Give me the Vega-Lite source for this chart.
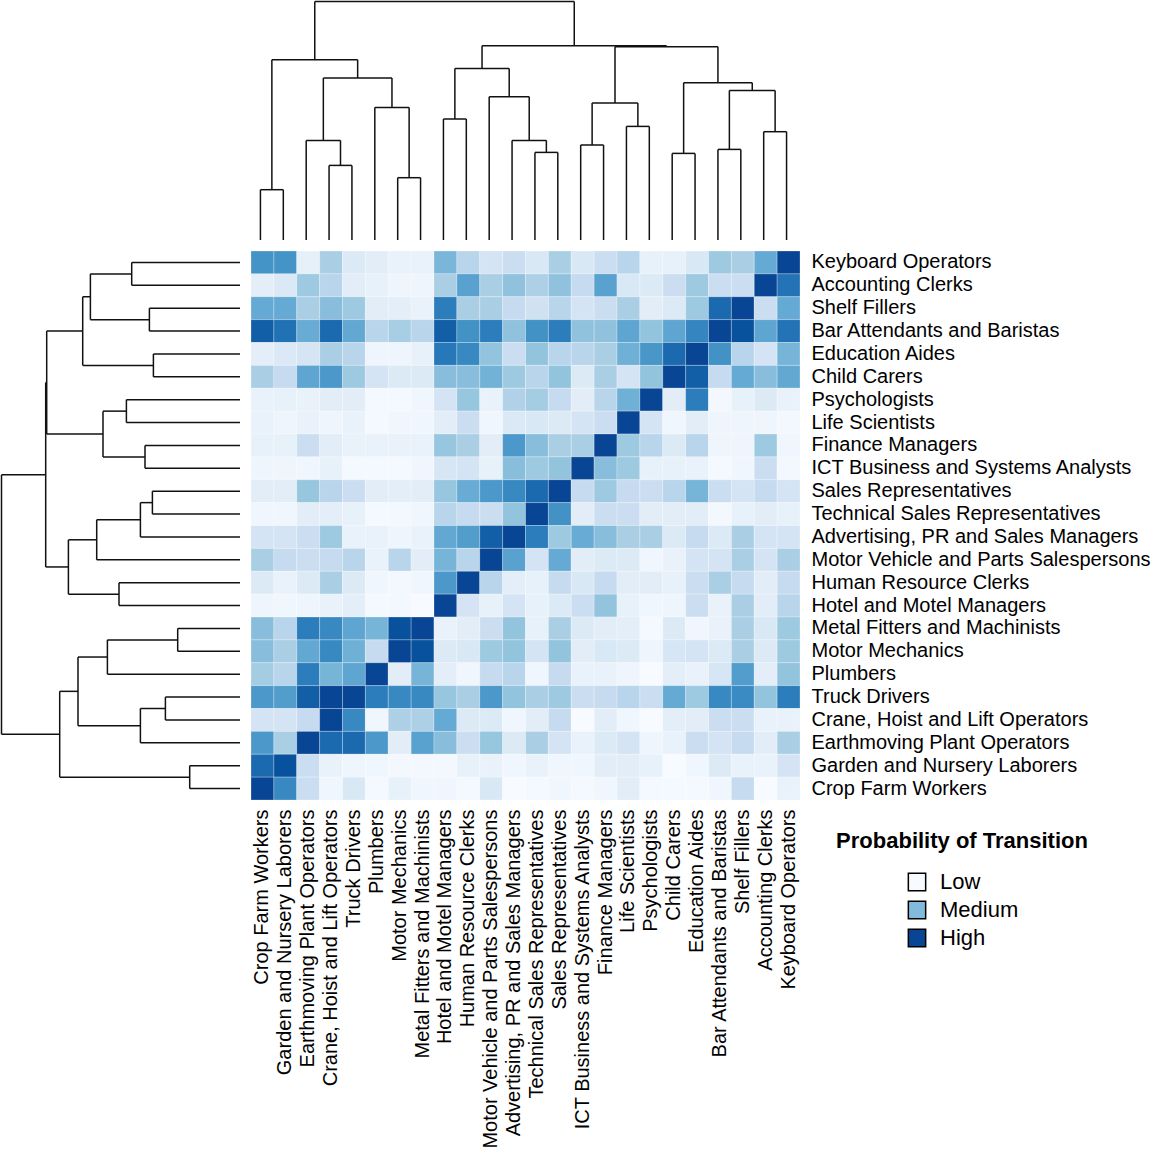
{
"$schema": "https://vega.github.io/schema/vega-lite/v6.json",
"padding": 0,
"background": "white",
"config": {"view": {"stroke": null}, "font": "Liberation Sans"},
"datasets": {
"tree": [
{"p":0.5,"p2":0.5,"h":0,"h2":50.3},{"p":1.5,"p2":1.5,"h":0,"h2":50.3},{"p":0.5,"p2":1.5,"h":50.3,"h2":50.3},
{"p":3.5,"p2":3.5,"h":0,"h2":74.6},{"p":4.5,"p2":4.5,"h":0,"h2":74.6},{"p":3.5,"p2":4.5,"h":74.6,"h2":74.6},
{"p":2.5,"p2":2.5,"h":0,"h2":99.6},{"p":4.0,"p2":4.0,"h":74.6,"h2":99.6},{"p":2.5,"p2":4.0,"h":99.6,"h2":99.6},
{"p":6.5,"p2":6.5,"h":0,"h2":62.3},{"p":7.5,"p2":7.5,"h":0,"h2":62.3},{"p":6.5,"p2":7.5,"h":62.3,"h2":62.3},
{"p":5.5,"p2":5.5,"h":0,"h2":132.6},{"p":7.0,"p2":7.0,"h":62.3,"h2":132.6},{"p":5.5,"p2":7.0,"h":132.6,"h2":132.6},
{"p":3.25,"p2":3.25,"h":99.6,"h2":162},{"p":6.25,"p2":6.25,"h":132.6,"h2":162},{"p":3.25,"p2":6.25,"h":162,"h2":162},
{"p":1.0,"p2":1.0,"h":50.3,"h2":180.3},{"p":4.75,"p2":4.75,"h":162,"h2":180.3},{"p":1.0,"p2":4.75,"h":180.3,"h2":180.3},
{"p":8.5,"p2":8.5,"h":0,"h2":121},{"p":9.5,"p2":9.5,"h":0,"h2":121},{"p":8.5,"p2":9.5,"h":121,"h2":121},
{"p":12.5,"p2":12.5,"h":0,"h2":87.6},{"p":13.5,"p2":13.5,"h":0,"h2":87.6},{"p":12.5,"p2":13.5,"h":87.6,"h2":87.6},
{"p":11.5,"p2":11.5,"h":0,"h2":99.6},{"p":13.0,"p2":13.0,"h":87.6,"h2":99.6},{"p":11.5,"p2":13.0,"h":99.6,"h2":99.6},
{"p":10.5,"p2":10.5,"h":0,"h2":143.3},{"p":12.25,"p2":12.25,"h":99.6,"h2":143.3},{"p":10.5,"p2":12.25,"h":143.3,"h2":143.3},
{"p":9.0,"p2":9.0,"h":121,"h2":171.6},{"p":11.375,"p2":11.375,"h":143.3,"h2":171.6},{"p":9.0,"p2":11.375,"h":171.6,"h2":171.6},
{"p":14.5,"p2":14.5,"h":0,"h2":95},{"p":15.5,"p2":15.5,"h":0,"h2":95},{"p":14.5,"p2":15.5,"h":95,"h2":95},
{"p":16.5,"p2":16.5,"h":0,"h2":113.6},{"p":17.5,"p2":17.5,"h":0,"h2":113.6},{"p":16.5,"p2":17.5,"h":113.6,"h2":113.6},
{"p":15,"p2":15,"h":95,"h2":137},{"p":17,"p2":17,"h":113.6,"h2":137},{"p":15,"p2":17,"h":137,"h2":137},
{"p":18.5,"p2":18.5,"h":0,"h2":86.6},{"p":19.5,"p2":19.5,"h":0,"h2":86.6},{"p":18.5,"p2":19.5,"h":86.6,"h2":86.6},
{"p":20.5,"p2":20.5,"h":0,"h2":90.6},{"p":21.5,"p2":21.5,"h":0,"h2":90.6},{"p":20.5,"p2":21.5,"h":90.6,"h2":90.6},
{"p":22.5,"p2":22.5,"h":0,"h2":108.3},{"p":23.5,"p2":23.5,"h":0,"h2":108.3},{"p":22.5,"p2":23.5,"h":108.3,"h2":108.3},
{"p":21,"p2":21,"h":90.6,"h2":149.6},{"p":23,"p2":23,"h":108.3,"h2":149.6},{"p":21,"p2":23,"h":149.6,"h2":149.6},
{"p":19,"p2":19,"h":86.6,"h2":157.3},{"p":22,"p2":22,"h":149.6,"h2":157.3},{"p":19,"p2":22,"h":157.3,"h2":157.3},
{"p":16,"p2":16,"h":137,"h2":193.3},{"p":20.5,"p2":20.5,"h":157.3,"h2":193.3},{"p":16,"p2":20.5,"h":193.3,"h2":193.3},
{"p":10.1875,"p2":10.1875,"h":171.6,"h2":194.3},{"p":18.25,"p2":18.25,"h":193.3,"h2":194.3},{"p":10.1875,"p2":18.25,"h":194.3,"h2":194.3},
{"p":2.875,"p2":2.875,"h":180.3,"h2":238.5},{"p":14.21875,"p2":14.21875,"h":194.3,"h2":238.5},{"p":2.875,"p2":14.21875,"h":238.5,"h2":238.5}
],
"cells": [
{"r":"Keyboard Operators","c":"Crop Farm Workers","p":0.68},{"r":"Keyboard Operators","c":"Garden and Nursery Laborers","p":0.68},{"r":"Keyboard Operators","c":"Earthmoving Plant Operators","p":0.1},{"r":"Keyboard Operators","c":"Crane, Hoist and Lift Operators","p":0.38},{"r":"Keyboard Operators","c":"Truck Drivers","p":0.15},{"r":"Keyboard Operators","c":"Plumbers","p":0.12},{"r":"Keyboard Operators","c":"Motor Mechanics","p":0.08},{"r":"Keyboard Operators","c":"Metal Fitters and Machinists","p":0.08},{"r":"Keyboard Operators","c":"Hotel and Motel Managers","p":0.52},{"r":"Keyboard Operators","c":"Human Resource Clerks","p":0.33},{"r":"Keyboard Operators","c":"Motor Vehicle and Parts Salespersons","p":0.2},{"r":"Keyboard Operators","c":"Advertising, PR and Sales Managers","p":0.25},{"r":"Keyboard Operators","c":"Technical Sales Representatives","p":0.17},{"r":"Keyboard Operators","c":"Sales Representatives","p":0.38},{"r":"Keyboard Operators","c":"ICT Business and Systems Analysts","p":0.17},{"r":"Keyboard Operators","c":"Finance Managers","p":0.25},{"r":"Keyboard Operators","c":"Life Scientists","p":0.33},{"r":"Keyboard Operators","c":"Psychologists","p":0.09},{"r":"Keyboard Operators","c":"Child Carers","p":0.09},{"r":"Keyboard Operators","c":"Education Aides","p":0.17},{"r":"Keyboard Operators","c":"Bar Attendants and Baristas","p":0.42},{"r":"Keyboard Operators","c":"Shelf Fillers","p":0.38},{"r":"Keyboard Operators","c":"Accounting Clerks","p":0.58},{"r":"Keyboard Operators","c":"Keyboard Operators","p":1.0},
{"r":"Accounting Clerks","c":"Crop Farm Workers","p":0.11},{"r":"Accounting Clerks","c":"Garden and Nursery Laborers","p":0.16},{"r":"Accounting Clerks","c":"Earthmoving Plant Operators","p":0.42},{"r":"Accounting Clerks","c":"Crane, Hoist and Lift Operators","p":0.33},{"r":"Accounting Clerks","c":"Truck Drivers","p":0.12},{"r":"Accounting Clerks","c":"Plumbers","p":0.09},{"r":"Accounting Clerks","c":"Motor Mechanics","p":0.05},{"r":"Accounting Clerks","c":"Metal Fitters and Machinists","p":0.05},{"r":"Accounting Clerks","c":"Hotel and Motel Managers","p":0.38},{"r":"Accounting Clerks","c":"Human Resource Clerks","p":0.62},{"r":"Accounting Clerks","c":"Motor Vehicle and Parts Salespersons","p":0.38},{"r":"Accounting Clerks","c":"Advertising, PR and Sales Managers","p":0.46},{"r":"Accounting Clerks","c":"Technical Sales Representatives","p":0.37},{"r":"Accounting Clerks","c":"Sales Representatives","p":0.46},{"r":"Accounting Clerks","c":"ICT Business and Systems Analysts","p":0.28},{"r":"Accounting Clerks","c":"Finance Managers","p":0.62},{"r":"Accounting Clerks","c":"Life Scientists","p":0.17},{"r":"Accounting Clerks","c":"Psychologists","p":0.15},{"r":"Accounting Clerks","c":"Child Carers","p":0.25},{"r":"Accounting Clerks","c":"Education Aides","p":0.42},{"r":"Accounting Clerks","c":"Bar Attendants and Baristas","p":0.25},{"r":"Accounting Clerks","c":"Shelf Fillers","p":0.25},{"r":"Accounting Clerks","c":"Accounting Clerks","p":1.0},{"r":"Accounting Clerks","c":"Keyboard Operators","p":0.82},
{"r":"Shelf Fillers","c":"Crop Farm Workers","p":0.58},{"r":"Shelf Fillers","c":"Garden and Nursery Laborers","p":0.58},{"r":"Shelf Fillers","c":"Earthmoving Plant Operators","p":0.38},{"r":"Shelf Fillers","c":"Crane, Hoist and Lift Operators","p":0.48},{"r":"Shelf Fillers","c":"Truck Drivers","p":0.42},{"r":"Shelf Fillers","c":"Plumbers","p":0.12},{"r":"Shelf Fillers","c":"Motor Mechanics","p":0.11},{"r":"Shelf Fillers","c":"Metal Fitters and Machinists","p":0.08},{"r":"Shelf Fillers","c":"Hotel and Motel Managers","p":0.78},{"r":"Shelf Fillers","c":"Human Resource Clerks","p":0.38},{"r":"Shelf Fillers","c":"Motor Vehicle and Parts Salespersons","p":0.38},{"r":"Shelf Fillers","c":"Advertising, PR and Sales Managers","p":0.28},{"r":"Shelf Fillers","c":"Technical Sales Representatives","p":0.22},{"r":"Shelf Fillers","c":"Sales Representatives","p":0.33},{"r":"Shelf Fillers","c":"ICT Business and Systems Analysts","p":0.2},{"r":"Shelf Fillers","c":"Finance Managers","p":0.25},{"r":"Shelf Fillers","c":"Life Scientists","p":0.38},{"r":"Shelf Fillers","c":"Psychologists","p":0.12},{"r":"Shelf Fillers","c":"Child Carers","p":0.15},{"r":"Shelf Fillers","c":"Education Aides","p":0.42},{"r":"Shelf Fillers","c":"Bar Attendants and Baristas","p":0.86},{"r":"Shelf Fillers","c":"Shelf Fillers","p":1.0},{"r":"Shelf Fillers","c":"Accounting Clerks","p":0.25},{"r":"Shelf Fillers","c":"Keyboard Operators","p":0.58},
{"r":"Bar Attendants and Baristas","c":"Crop Farm Workers","p":0.9},{"r":"Bar Attendants and Baristas","c":"Garden and Nursery Laborers","p":0.83},{"r":"Bar Attendants and Baristas","c":"Earthmoving Plant Operators","p":0.57},{"r":"Bar Attendants and Baristas","c":"Crane, Hoist and Lift Operators","p":0.86},{"r":"Bar Attendants and Baristas","c":"Truck Drivers","p":0.59},{"r":"Bar Attendants and Baristas","c":"Plumbers","p":0.33},{"r":"Bar Attendants and Baristas","c":"Motor Mechanics","p":0.39},{"r":"Bar Attendants and Baristas","c":"Metal Fitters and Machinists","p":0.33},{"r":"Bar Attendants and Baristas","c":"Hotel and Motel Managers","p":0.9},{"r":"Bar Attendants and Baristas","c":"Human Resource Clerks","p":0.69},{"r":"Bar Attendants and Baristas","c":"Motor Vehicle and Parts Salespersons","p":0.78},{"r":"Bar Attendants and Baristas","c":"Advertising, PR and Sales Managers","p":0.46},{"r":"Bar Attendants and Baristas","c":"Technical Sales Representatives","p":0.69},{"r":"Bar Attendants and Baristas","c":"Sales Representatives","p":0.78},{"r":"Bar Attendants and Baristas","c":"ICT Business and Systems Analysts","p":0.46},{"r":"Bar Attendants and Baristas","c":"Finance Managers","p":0.46},{"r":"Bar Attendants and Baristas","c":"Life Scientists","p":0.6},{"r":"Bar Attendants and Baristas","c":"Psychologists","p":0.45},{"r":"Bar Attendants and Baristas","c":"Child Carers","p":0.6},{"r":"Bar Attendants and Baristas","c":"Education Aides","p":0.74},{"r":"Bar Attendants and Baristas","c":"Bar Attendants and Baristas","p":1.0},{"r":"Bar Attendants and Baristas","c":"Shelf Fillers","p":0.95},{"r":"Bar Attendants and Baristas","c":"Accounting Clerks","p":0.6},{"r":"Bar Attendants and Baristas","c":"Keyboard Operators","p":0.82},
{"r":"Education Aides","c":"Crop Farm Workers","p":0.11},{"r":"Education Aides","c":"Garden and Nursery Laborers","p":0.16},{"r":"Education Aides","c":"Earthmoving Plant Operators","p":0.19},{"r":"Education Aides","c":"Crane, Hoist and Lift Operators","p":0.38},{"r":"Education Aides","c":"Truck Drivers","p":0.33},{"r":"Education Aides","c":"Plumbers","p":0.05},{"r":"Education Aides","c":"Motor Mechanics","p":0.05},{"r":"Education Aides","c":"Metal Fitters and Machinists","p":0.09},{"r":"Education Aides","c":"Hotel and Motel Managers","p":0.8},{"r":"Education Aides","c":"Human Resource Clerks","p":0.73},{"r":"Education Aides","c":"Motor Vehicle and Parts Salespersons","p":0.45},{"r":"Education Aides","c":"Advertising, PR and Sales Managers","p":0.25},{"r":"Education Aides","c":"Technical Sales Representatives","p":0.45},{"r":"Education Aides","c":"Sales Representatives","p":0.33},{"r":"Education Aides","c":"ICT Business and Systems Analysts","p":0.33},{"r":"Education Aides","c":"Finance Managers","p":0.38},{"r":"Education Aides","c":"Life Scientists","p":0.55},{"r":"Education Aides","c":"Psychologists","p":0.67},{"r":"Education Aides","c":"Child Carers","p":0.86},{"r":"Education Aides","c":"Education Aides","p":1.0},{"r":"Education Aides","c":"Bar Attendants and Baristas","p":0.69},{"r":"Education Aides","c":"Shelf Fillers","p":0.33},{"r":"Education Aides","c":"Accounting Clerks","p":0.2},{"r":"Education Aides","c":"Keyboard Operators","p":0.53},
{"r":"Child Carers","c":"Crop Farm Workers","p":0.38},{"r":"Child Carers","c":"Garden and Nursery Laborers","p":0.28},{"r":"Child Carers","c":"Earthmoving Plant Operators","p":0.6},{"r":"Child Carers","c":"Crane, Hoist and Lift Operators","p":0.66},{"r":"Child Carers","c":"Truck Drivers","p":0.42},{"r":"Child Carers","c":"Plumbers","p":0.2},{"r":"Child Carers","c":"Motor Mechanics","p":0.15},{"r":"Child Carers","c":"Metal Fitters and Machinists","p":0.15},{"r":"Child Carers","c":"Hotel and Motel Managers","p":0.48},{"r":"Child Carers","c":"Human Resource Clerks","p":0.48},{"r":"Child Carers","c":"Motor Vehicle and Parts Salespersons","p":0.54},{"r":"Child Carers","c":"Advertising, PR and Sales Managers","p":0.42},{"r":"Child Carers","c":"Technical Sales Representatives","p":0.33},{"r":"Child Carers","c":"Sales Representatives","p":0.45},{"r":"Child Carers","c":"ICT Business and Systems Analysts","p":0.15},{"r":"Child Carers","c":"Finance Managers","p":0.38},{"r":"Child Carers","c":"Life Scientists","p":0.2},{"r":"Child Carers","c":"Psychologists","p":0.45},{"r":"Child Carers","c":"Child Carers","p":1.0},{"r":"Child Carers","c":"Education Aides","p":0.9},{"r":"Child Carers","c":"Bar Attendants and Baristas","p":0.28},{"r":"Child Carers","c":"Shelf Fillers","p":0.58},{"r":"Child Carers","c":"Accounting Clerks","p":0.48},{"r":"Child Carers","c":"Keyboard Operators","p":0.59},
{"r":"Psychologists","c":"Crop Farm Workers","p":0.08},{"r":"Psychologists","c":"Garden and Nursery Laborers","p":0.09},{"r":"Psychologists","c":"Earthmoving Plant Operators","p":0.08},{"r":"Psychologists","c":"Crane, Hoist and Lift Operators","p":0.12},{"r":"Psychologists","c":"Truck Drivers","p":0.12},{"r":"Psychologists","c":"Plumbers","p":0.02},{"r":"Psychologists","c":"Motor Mechanics","p":0.02},{"r":"Psychologists","c":"Metal Fitters and Machinists","p":0.04},{"r":"Psychologists","c":"Hotel and Motel Managers","p":0.2},{"r":"Psychologists","c":"Human Resource Clerks","p":0.44},{"r":"Psychologists","c":"Motor Vehicle and Parts Salespersons","p":0.08},{"r":"Psychologists","c":"Advertising, PR and Sales Managers","p":0.36},{"r":"Psychologists","c":"Technical Sales Representatives","p":0.4},{"r":"Psychologists","c":"Sales Representatives","p":0.28},{"r":"Psychologists","c":"ICT Business and Systems Analysts","p":0.12},{"r":"Psychologists","c":"Finance Managers","p":0.33},{"r":"Psychologists","c":"Life Scientists","p":0.55},{"r":"Psychologists","c":"Psychologists","p":1.0},{"r":"Psychologists","c":"Child Carers","p":0.12},{"r":"Psychologists","c":"Education Aides","p":0.78},{"r":"Psychologists","c":"Bar Attendants and Baristas","p":0.03},{"r":"Psychologists","c":"Shelf Fillers","p":0.09},{"r":"Psychologists","c":"Accounting Clerks","p":0.15},{"r":"Psychologists","c":"Keyboard Operators","p":0.08},
{"r":"Life Scientists","c":"Crop Farm Workers","p":0.08},{"r":"Life Scientists","c":"Garden and Nursery Laborers","p":0.05},{"r":"Life Scientists","c":"Earthmoving Plant Operators","p":0.08},{"r":"Life Scientists","c":"Crane, Hoist and Lift Operators","p":0.05},{"r":"Life Scientists","c":"Truck Drivers","p":0.08},{"r":"Life Scientists","c":"Plumbers","p":0.02},{"r":"Life Scientists","c":"Motor Mechanics","p":0.04},{"r":"Life Scientists","c":"Metal Fitters and Machinists","p":0.04},{"r":"Life Scientists","c":"Hotel and Motel Managers","p":0.12},{"r":"Life Scientists","c":"Human Resource Clerks","p":0.25},{"r":"Life Scientists","c":"Motor Vehicle and Parts Salespersons","p":0.04},{"r":"Life Scientists","c":"Advertising, PR and Sales Managers","p":0.16},{"r":"Life Scientists","c":"Technical Sales Representatives","p":0.17},{"r":"Life Scientists","c":"Sales Representatives","p":0.15},{"r":"Life Scientists","c":"ICT Business and Systems Analysts","p":0.2},{"r":"Life Scientists","c":"Finance Managers","p":0.25},{"r":"Life Scientists","c":"Life Scientists","p":1.0},{"r":"Life Scientists","c":"Psychologists","p":0.2},{"r":"Life Scientists","c":"Child Carers","p":0.04},{"r":"Life Scientists","c":"Education Aides","p":0.12},{"r":"Life Scientists","c":"Bar Attendants and Baristas","p":0.05},{"r":"Life Scientists","c":"Shelf Fillers","p":0.05},{"r":"Life Scientists","c":"Accounting Clerks","p":0.05},{"r":"Life Scientists","c":"Keyboard Operators","p":0.03},
{"r":"Finance Managers","c":"Crop Farm Workers","p":0.09},{"r":"Finance Managers","c":"Garden and Nursery Laborers","p":0.09},{"r":"Finance Managers","c":"Earthmoving Plant Operators","p":0.25},{"r":"Finance Managers","c":"Crane, Hoist and Lift Operators","p":0.12},{"r":"Finance Managers","c":"Truck Drivers","p":0.08},{"r":"Finance Managers","c":"Plumbers","p":0.08},{"r":"Finance Managers","c":"Motor Mechanics","p":0.08},{"r":"Finance Managers","c":"Metal Fitters and Machinists","p":0.08},{"r":"Finance Managers","c":"Hotel and Motel Managers","p":0.44},{"r":"Finance Managers","c":"Human Resource Clerks","p":0.38},{"r":"Finance Managers","c":"Motor Vehicle and Parts Salespersons","p":0.12},{"r":"Finance Managers","c":"Advertising, PR and Sales Managers","p":0.66},{"r":"Finance Managers","c":"Technical Sales Representatives","p":0.48},{"r":"Finance Managers","c":"Sales Representatives","p":0.38},{"r":"Finance Managers","c":"ICT Business and Systems Analysts","p":0.38},{"r":"Finance Managers","c":"Finance Managers","p":1.0},{"r":"Finance Managers","c":"Life Scientists","p":0.42},{"r":"Finance Managers","c":"Psychologists","p":0.33},{"r":"Finance Managers","c":"Child Carers","p":0.15},{"r":"Finance Managers","c":"Education Aides","p":0.33},{"r":"Finance Managers","c":"Bar Attendants and Baristas","p":0.05},{"r":"Finance Managers","c":"Shelf Fillers","p":0.05},{"r":"Finance Managers","c":"Accounting Clerks","p":0.42},{"r":"Finance Managers","c":"Keyboard Operators","p":0.04},
{"r":"ICT Business and Systems Analysts","c":"Crop Farm Workers","p":0.05},{"r":"ICT Business and Systems Analysts","c":"Garden and Nursery Laborers","p":0.05},{"r":"ICT Business and Systems Analysts","c":"Earthmoving Plant Operators","p":0.04},{"r":"ICT Business and Systems Analysts","c":"Crane, Hoist and Lift Operators","p":0.09},{"r":"ICT Business and Systems Analysts","c":"Truck Drivers","p":0.02},{"r":"ICT Business and Systems Analysts","c":"Plumbers","p":0.02},{"r":"ICT Business and Systems Analysts","c":"Motor Mechanics","p":0.02},{"r":"ICT Business and Systems Analysts","c":"Metal Fitters and Machinists","p":0.04},{"r":"ICT Business and Systems Analysts","c":"Hotel and Motel Managers","p":0.18},{"r":"ICT Business and Systems Analysts","c":"Human Resource Clerks","p":0.2},{"r":"ICT Business and Systems Analysts","c":"Motor Vehicle and Parts Salespersons","p":0.09},{"r":"ICT Business and Systems Analysts","c":"Advertising, PR and Sales Managers","p":0.48},{"r":"ICT Business and Systems Analysts","c":"Technical Sales Representatives","p":0.42},{"r":"ICT Business and Systems Analysts","c":"Sales Representatives","p":0.45},{"r":"ICT Business and Systems Analysts","c":"ICT Business and Systems Analysts","p":1.0},{"r":"ICT Business and Systems Analysts","c":"Finance Managers","p":0.48},{"r":"ICT Business and Systems Analysts","c":"Life Scientists","p":0.42},{"r":"ICT Business and Systems Analysts","c":"Psychologists","p":0.09},{"r":"ICT Business and Systems Analysts","c":"Child Carers","p":0.09},{"r":"ICT Business and Systems Analysts","c":"Education Aides","p":0.08},{"r":"ICT Business and Systems Analysts","c":"Bar Attendants and Baristas","p":0.02},{"r":"ICT Business and Systems Analysts","c":"Shelf Fillers","p":0.04},{"r":"ICT Business and Systems Analysts","c":"Accounting Clerks","p":0.25},{"r":"ICT Business and Systems Analysts","c":"Keyboard Operators","p":0.03},
{"r":"Sales Representatives","c":"Crop Farm Workers","p":0.12},{"r":"Sales Representatives","c":"Garden and Nursery Laborers","p":0.12},{"r":"Sales Representatives","c":"Earthmoving Plant Operators","p":0.44},{"r":"Sales Representatives","c":"Crane, Hoist and Lift Operators","p":0.33},{"r":"Sales Representatives","c":"Truck Drivers","p":0.25},{"r":"Sales Representatives","c":"Plumbers","p":0.12},{"r":"Sales Representatives","c":"Motor Mechanics","p":0.11},{"r":"Sales Representatives","c":"Metal Fitters and Machinists","p":0.12},{"r":"Sales Representatives","c":"Hotel and Motel Managers","p":0.44},{"r":"Sales Representatives","c":"Human Resource Clerks","p":0.57},{"r":"Sales Representatives","c":"Motor Vehicle and Parts Salespersons","p":0.66},{"r":"Sales Representatives","c":"Advertising, PR and Sales Managers","p":0.73},{"r":"Sales Representatives","c":"Technical Sales Representatives","p":0.86},{"r":"Sales Representatives","c":"Sales Representatives","p":1.0},{"r":"Sales Representatives","c":"ICT Business and Systems Analysts","p":0.28},{"r":"Sales Representatives","c":"Finance Managers","p":0.42},{"r":"Sales Representatives","c":"Life Scientists","p":0.28},{"r":"Sales Representatives","c":"Psychologists","p":0.25},{"r":"Sales Representatives","c":"Child Carers","p":0.33},{"r":"Sales Representatives","c":"Education Aides","p":0.53},{"r":"Sales Representatives","c":"Bar Attendants and Baristas","p":0.25},{"r":"Sales Representatives","c":"Shelf Fillers","p":0.2},{"r":"Sales Representatives","c":"Accounting Clerks","p":0.28},{"r":"Sales Representatives","c":"Keyboard Operators","p":0.2},
{"r":"Technical Sales Representatives","c":"Crop Farm Workers","p":0.04},{"r":"Technical Sales Representatives","c":"Garden and Nursery Laborers","p":0.04},{"r":"Technical Sales Representatives","c":"Earthmoving Plant Operators","p":0.12},{"r":"Technical Sales Representatives","c":"Crane, Hoist and Lift Operators","p":0.11},{"r":"Technical Sales Representatives","c":"Truck Drivers","p":0.09},{"r":"Technical Sales Representatives","c":"Plumbers","p":0.02},{"r":"Technical Sales Representatives","c":"Motor Mechanics","p":0.03},{"r":"Technical Sales Representatives","c":"Metal Fitters and Machinists","p":0.04},{"r":"Technical Sales Representatives","c":"Hotel and Motel Managers","p":0.33},{"r":"Technical Sales Representatives","c":"Human Resource Clerks","p":0.28},{"r":"Technical Sales Representatives","c":"Motor Vehicle and Parts Salespersons","p":0.25},{"r":"Technical Sales Representatives","c":"Advertising, PR and Sales Managers","p":0.45},{"r":"Technical Sales Representatives","c":"Technical Sales Representatives","p":1.0},{"r":"Technical Sales Representatives","c":"Sales Representatives","p":0.69},{"r":"Technical Sales Representatives","c":"ICT Business and Systems Analysts","p":0.12},{"r":"Technical Sales Representatives","c":"Finance Managers","p":0.25},{"r":"Technical Sales Representatives","c":"Life Scientists","p":0.25},{"r":"Technical Sales Representatives","c":"Psychologists","p":0.12},{"r":"Technical Sales Representatives","c":"Child Carers","p":0.12},{"r":"Technical Sales Representatives","c":"Education Aides","p":0.12},{"r":"Technical Sales Representatives","c":"Bar Attendants and Baristas","p":0.03},{"r":"Technical Sales Representatives","c":"Shelf Fillers","p":0.09},{"r":"Technical Sales Representatives","c":"Accounting Clerks","p":0.12},{"r":"Technical Sales Representatives","c":"Keyboard Operators","p":0.09},
{"r":"Advertising, PR and Sales Managers","c":"Crop Farm Workers","p":0.2},{"r":"Advertising, PR and Sales Managers","c":"Garden and Nursery Laborers","p":0.2},{"r":"Advertising, PR and Sales Managers","c":"Earthmoving Plant Operators","p":0.25},{"r":"Advertising, PR and Sales Managers","c":"Crane, Hoist and Lift Operators","p":0.42},{"r":"Advertising, PR and Sales Managers","c":"Truck Drivers","p":0.08},{"r":"Advertising, PR and Sales Managers","c":"Plumbers","p":0.08},{"r":"Advertising, PR and Sales Managers","c":"Motor Mechanics","p":0.05},{"r":"Advertising, PR and Sales Managers","c":"Metal Fitters and Machinists","p":0.08},{"r":"Advertising, PR and Sales Managers","c":"Hotel and Motel Managers","p":0.59},{"r":"Advertising, PR and Sales Managers","c":"Human Resource Clerks","p":0.64},{"r":"Advertising, PR and Sales Managers","c":"Motor Vehicle and Parts Salespersons","p":0.9},{"r":"Advertising, PR and Sales Managers","c":"Advertising, PR and Sales Managers","p":1.0},{"r":"Advertising, PR and Sales Managers","c":"Technical Sales Representatives","p":0.78},{"r":"Advertising, PR and Sales Managers","c":"Sales Representatives","p":0.42},{"r":"Advertising, PR and Sales Managers","c":"ICT Business and Systems Analysts","p":0.57},{"r":"Advertising, PR and Sales Managers","c":"Finance Managers","p":0.48},{"r":"Advertising, PR and Sales Managers","c":"Life Scientists","p":0.38},{"r":"Advertising, PR and Sales Managers","c":"Psychologists","p":0.38},{"r":"Advertising, PR and Sales Managers","c":"Child Carers","p":0.15},{"r":"Advertising, PR and Sales Managers","c":"Education Aides","p":0.28},{"r":"Advertising, PR and Sales Managers","c":"Bar Attendants and Baristas","p":0.15},{"r":"Advertising, PR and Sales Managers","c":"Shelf Fillers","p":0.38},{"r":"Advertising, PR and Sales Managers","c":"Accounting Clerks","p":0.2},{"r":"Advertising, PR and Sales Managers","c":"Keyboard Operators","p":0.2},
{"r":"Motor Vehicle and Parts Salespersons","c":"Crop Farm Workers","p":0.38},{"r":"Motor Vehicle and Parts Salespersons","c":"Garden and Nursery Laborers","p":0.28},{"r":"Motor Vehicle and Parts Salespersons","c":"Earthmoving Plant Operators","p":0.25},{"r":"Motor Vehicle and Parts Salespersons","c":"Crane, Hoist and Lift Operators","p":0.28},{"r":"Motor Vehicle and Parts Salespersons","c":"Truck Drivers","p":0.33},{"r":"Motor Vehicle and Parts Salespersons","c":"Plumbers","p":0.08},{"r":"Motor Vehicle and Parts Salespersons","c":"Motor Mechanics","p":0.33},{"r":"Motor Vehicle and Parts Salespersons","c":"Metal Fitters and Machinists","p":0.12},{"r":"Motor Vehicle and Parts Salespersons","c":"Hotel and Motel Managers","p":0.53},{"r":"Motor Vehicle and Parts Salespersons","c":"Human Resource Clerks","p":0.33},{"r":"Motor Vehicle and Parts Salespersons","c":"Motor Vehicle and Parts Salespersons","p":1.0},{"r":"Motor Vehicle and Parts Salespersons","c":"Advertising, PR and Sales Managers","p":0.62},{"r":"Motor Vehicle and Parts Salespersons","c":"Technical Sales Representatives","p":0.2},{"r":"Motor Vehicle and Parts Salespersons","c":"Sales Representatives","p":0.58},{"r":"Motor Vehicle and Parts Salespersons","c":"ICT Business and Systems Analysts","p":0.12},{"r":"Motor Vehicle and Parts Salespersons","c":"Finance Managers","p":0.15},{"r":"Motor Vehicle and Parts Salespersons","c":"Life Scientists","p":0.15},{"r":"Motor Vehicle and Parts Salespersons","c":"Psychologists","p":0.04},{"r":"Motor Vehicle and Parts Salespersons","c":"Child Carers","p":0.08},{"r":"Motor Vehicle and Parts Salespersons","c":"Education Aides","p":0.2},{"r":"Motor Vehicle and Parts Salespersons","c":"Bar Attendants and Baristas","p":0.2},{"r":"Motor Vehicle and Parts Salespersons","c":"Shelf Fillers","p":0.38},{"r":"Motor Vehicle and Parts Salespersons","c":"Accounting Clerks","p":0.2},{"r":"Motor Vehicle and Parts Salespersons","c":"Keyboard Operators","p":0.38},
{"r":"Human Resource Clerks","c":"Crop Farm Workers","p":0.15},{"r":"Human Resource Clerks","c":"Garden and Nursery Laborers","p":0.08},{"r":"Human Resource Clerks","c":"Earthmoving Plant Operators","p":0.15},{"r":"Human Resource Clerks","c":"Crane, Hoist and Lift Operators","p":0.38},{"r":"Human Resource Clerks","c":"Truck Drivers","p":0.15},{"r":"Human Resource Clerks","c":"Plumbers","p":0.04},{"r":"Human Resource Clerks","c":"Motor Mechanics","p":0.03},{"r":"Human Resource Clerks","c":"Metal Fitters and Machinists","p":0.04},{"r":"Human Resource Clerks","c":"Hotel and Motel Managers","p":0.66},{"r":"Human Resource Clerks","c":"Human Resource Clerks","p":1.0},{"r":"Human Resource Clerks","c":"Motor Vehicle and Parts Salespersons","p":0.33},{"r":"Human Resource Clerks","c":"Advertising, PR and Sales Managers","p":0.11},{"r":"Human Resource Clerks","c":"Technical Sales Representatives","p":0.09},{"r":"Human Resource Clerks","c":"Sales Representatives","p":0.28},{"r":"Human Resource Clerks","c":"ICT Business and Systems Analysts","p":0.17},{"r":"Human Resource Clerks","c":"Finance Managers","p":0.28},{"r":"Human Resource Clerks","c":"Life Scientists","p":0.12},{"r":"Human Resource Clerks","c":"Psychologists","p":0.12},{"r":"Human Resource Clerks","c":"Child Carers","p":0.09},{"r":"Human Resource Clerks","c":"Education Aides","p":0.25},{"r":"Human Resource Clerks","c":"Bar Attendants and Baristas","p":0.38},{"r":"Human Resource Clerks","c":"Shelf Fillers","p":0.28},{"r":"Human Resource Clerks","c":"Accounting Clerks","p":0.12},{"r":"Human Resource Clerks","c":"Keyboard Operators","p":0.28},
{"r":"Hotel and Motel Managers","c":"Crop Farm Workers","p":0.05},{"r":"Hotel and Motel Managers","c":"Garden and Nursery Laborers","p":0.04},{"r":"Hotel and Motel Managers","c":"Earthmoving Plant Operators","p":0.05},{"r":"Hotel and Motel Managers","c":"Crane, Hoist and Lift Operators","p":0.08},{"r":"Hotel and Motel Managers","c":"Truck Drivers","p":0.11},{"r":"Hotel and Motel Managers","c":"Plumbers","p":0.02},{"r":"Hotel and Motel Managers","c":"Motor Mechanics","p":0.03},{"r":"Hotel and Motel Managers","c":"Metal Fitters and Machinists","p":0.0},{"r":"Hotel and Motel Managers","c":"Hotel and Motel Managers","p":1.0},{"r":"Hotel and Motel Managers","c":"Human Resource Clerks","p":0.2},{"r":"Hotel and Motel Managers","c":"Motor Vehicle and Parts Salespersons","p":0.09},{"r":"Hotel and Motel Managers","c":"Advertising, PR and Sales Managers","p":0.2},{"r":"Hotel and Motel Managers","c":"Technical Sales Representatives","p":0.09},{"r":"Hotel and Motel Managers","c":"Sales Representatives","p":0.15},{"r":"Hotel and Motel Managers","c":"ICT Business and Systems Analysts","p":0.25},{"r":"Hotel and Motel Managers","c":"Finance Managers","p":0.45},{"r":"Hotel and Motel Managers","c":"Life Scientists","p":0.09},{"r":"Hotel and Motel Managers","c":"Psychologists","p":0.04},{"r":"Hotel and Motel Managers","c":"Child Carers","p":0.05},{"r":"Hotel and Motel Managers","c":"Education Aides","p":0.25},{"r":"Hotel and Motel Managers","c":"Bar Attendants and Baristas","p":0.08},{"r":"Hotel and Motel Managers","c":"Shelf Fillers","p":0.38},{"r":"Hotel and Motel Managers","c":"Accounting Clerks","p":0.12},{"r":"Hotel and Motel Managers","c":"Keyboard Operators","p":0.33},
{"r":"Metal Fitters and Machinists","c":"Crop Farm Workers","p":0.48},{"r":"Metal Fitters and Machinists","c":"Garden and Nursery Laborers","p":0.33},{"r":"Metal Fitters and Machinists","c":"Earthmoving Plant Operators","p":0.78},{"r":"Metal Fitters and Machinists","c":"Crane, Hoist and Lift Operators","p":0.73},{"r":"Metal Fitters and Machinists","c":"Truck Drivers","p":0.6},{"r":"Metal Fitters and Machinists","c":"Plumbers","p":0.53},{"r":"Metal Fitters and Machinists","c":"Motor Mechanics","p":0.95},{"r":"Metal Fitters and Machinists","c":"Metal Fitters and Machinists","p":1.0},{"r":"Metal Fitters and Machinists","c":"Hotel and Motel Managers","p":0.08},{"r":"Metal Fitters and Machinists","c":"Human Resource Clerks","p":0.12},{"r":"Metal Fitters and Machinists","c":"Motor Vehicle and Parts Salespersons","p":0.25},{"r":"Metal Fitters and Machinists","c":"Advertising, PR and Sales Managers","p":0.45},{"r":"Metal Fitters and Machinists","c":"Technical Sales Representatives","p":0.09},{"r":"Metal Fitters and Machinists","c":"Sales Representatives","p":0.38},{"r":"Metal Fitters and Machinists","c":"ICT Business and Systems Analysts","p":0.15},{"r":"Metal Fitters and Machinists","c":"Finance Managers","p":0.12},{"r":"Metal Fitters and Machinists","c":"Life Scientists","p":0.11},{"r":"Metal Fitters and Machinists","c":"Psychologists","p":0.02},{"r":"Metal Fitters and Machinists","c":"Child Carers","p":0.15},{"r":"Metal Fitters and Machinists","c":"Education Aides","p":0.04},{"r":"Metal Fitters and Machinists","c":"Bar Attendants and Baristas","p":0.08},{"r":"Metal Fitters and Machinists","c":"Shelf Fillers","p":0.38},{"r":"Metal Fitters and Machinists","c":"Accounting Clerks","p":0.17},{"r":"Metal Fitters and Machinists","c":"Keyboard Operators","p":0.42},
{"r":"Motor Mechanics","c":"Crop Farm Workers","p":0.48},{"r":"Motor Mechanics","c":"Garden and Nursery Laborers","p":0.38},{"r":"Motor Mechanics","c":"Earthmoving Plant Operators","p":0.59},{"r":"Motor Mechanics","c":"Crane, Hoist and Lift Operators","p":0.73},{"r":"Motor Mechanics","c":"Truck Drivers","p":0.55},{"r":"Motor Mechanics","c":"Plumbers","p":0.28},{"r":"Motor Mechanics","c":"Motor Mechanics","p":1.0},{"r":"Motor Mechanics","c":"Metal Fitters and Machinists","p":0.95},{"r":"Motor Mechanics","c":"Hotel and Motel Managers","p":0.15},{"r":"Motor Mechanics","c":"Human Resource Clerks","p":0.17},{"r":"Motor Mechanics","c":"Motor Vehicle and Parts Salespersons","p":0.42},{"r":"Motor Mechanics","c":"Advertising, PR and Sales Managers","p":0.45},{"r":"Motor Mechanics","c":"Technical Sales Representatives","p":0.2},{"r":"Motor Mechanics","c":"Sales Representatives","p":0.45},{"r":"Motor Mechanics","c":"ICT Business and Systems Analysts","p":0.12},{"r":"Motor Mechanics","c":"Finance Managers","p":0.17},{"r":"Motor Mechanics","c":"Life Scientists","p":0.15},{"r":"Motor Mechanics","c":"Psychologists","p":0.05},{"r":"Motor Mechanics","c":"Child Carers","p":0.18},{"r":"Motor Mechanics","c":"Education Aides","p":0.2},{"r":"Motor Mechanics","c":"Bar Attendants and Baristas","p":0.15},{"r":"Motor Mechanics","c":"Shelf Fillers","p":0.38},{"r":"Motor Mechanics","c":"Accounting Clerks","p":0.15},{"r":"Motor Mechanics","c":"Keyboard Operators","p":0.42},
{"r":"Plumbers","c":"Crop Farm Workers","p":0.4},{"r":"Plumbers","c":"Garden and Nursery Laborers","p":0.33},{"r":"Plumbers","c":"Earthmoving Plant Operators","p":0.78},{"r":"Plumbers","c":"Crane, Hoist and Lift Operators","p":0.53},{"r":"Plumbers","c":"Truck Drivers","p":0.6},{"r":"Plumbers","c":"Plumbers","p":1.0},{"r":"Plumbers","c":"Motor Mechanics","p":0.12},{"r":"Plumbers","c":"Metal Fitters and Machinists","p":0.53},{"r":"Plumbers","c":"Hotel and Motel Managers","p":0.11},{"r":"Plumbers","c":"Human Resource Clerks","p":0.04},{"r":"Plumbers","c":"Motor Vehicle and Parts Salespersons","p":0.28},{"r":"Plumbers","c":"Advertising, PR and Sales Managers","p":0.33},{"r":"Plumbers","c":"Technical Sales Representatives","p":0.04},{"r":"Plumbers","c":"Sales Representatives","p":0.28},{"r":"Plumbers","c":"ICT Business and Systems Analysts","p":0.08},{"r":"Plumbers","c":"Finance Managers","p":0.08},{"r":"Plumbers","c":"Life Scientists","p":0.05},{"r":"Plumbers","c":"Psychologists","p":0.0},{"r":"Plumbers","c":"Child Carers","p":0.11},{"r":"Plumbers","c":"Education Aides","p":0.08},{"r":"Plumbers","c":"Bar Attendants and Baristas","p":0.18},{"r":"Plumbers","c":"Shelf Fillers","p":0.64},{"r":"Plumbers","c":"Accounting Clerks","p":0.11},{"r":"Plumbers","c":"Keyboard Operators","p":0.45},
{"r":"Truck Drivers","c":"Crop Farm Workers","p":0.66},{"r":"Truck Drivers","c":"Garden and Nursery Laborers","p":0.64},{"r":"Truck Drivers","c":"Earthmoving Plant Operators","p":0.9},{"r":"Truck Drivers","c":"Crane, Hoist and Lift Operators","p":1.0},{"r":"Truck Drivers","c":"Truck Drivers","p":1.0},{"r":"Truck Drivers","c":"Plumbers","p":0.78},{"r":"Truck Drivers","c":"Motor Mechanics","p":0.73},{"r":"Truck Drivers","c":"Metal Fitters and Machinists","p":0.73},{"r":"Truck Drivers","c":"Hotel and Motel Managers","p":0.44},{"r":"Truck Drivers","c":"Human Resource Clerks","p":0.38},{"r":"Truck Drivers","c":"Motor Vehicle and Parts Salespersons","p":0.66},{"r":"Truck Drivers","c":"Advertising, PR and Sales Managers","p":0.45},{"r":"Truck Drivers","c":"Technical Sales Representatives","p":0.38},{"r":"Truck Drivers","c":"Sales Representatives","p":0.42},{"r":"Truck Drivers","c":"ICT Business and Systems Analysts","p":0.25},{"r":"Truck Drivers","c":"Finance Managers","p":0.28},{"r":"Truck Drivers","c":"Life Scientists","p":0.33},{"r":"Truck Drivers","c":"Psychologists","p":0.25},{"r":"Truck Drivers","c":"Child Carers","p":0.58},{"r":"Truck Drivers","c":"Education Aides","p":0.42},{"r":"Truck Drivers","c":"Bar Attendants and Baristas","p":0.73},{"r":"Truck Drivers","c":"Shelf Fillers","p":0.72},{"r":"Truck Drivers","c":"Accounting Clerks","p":0.45},{"r":"Truck Drivers","c":"Keyboard Operators","p":0.78},
{"r":"Crane, Hoist and Lift Operators","c":"Crop Farm Workers","p":0.2},{"r":"Crane, Hoist and Lift Operators","c":"Garden and Nursery Laborers","p":0.2},{"r":"Crane, Hoist and Lift Operators","c":"Earthmoving Plant Operators","p":0.28},{"r":"Crane, Hoist and Lift Operators","c":"Crane, Hoist and Lift Operators","p":1.0},{"r":"Crane, Hoist and Lift Operators","c":"Truck Drivers","p":0.73},{"r":"Crane, Hoist and Lift Operators","c":"Plumbers","p":0.04},{"r":"Crane, Hoist and Lift Operators","c":"Motor Mechanics","p":0.37},{"r":"Crane, Hoist and Lift Operators","c":"Metal Fitters and Machinists","p":0.37},{"r":"Crane, Hoist and Lift Operators","c":"Hotel and Motel Managers","p":0.58},{"r":"Crane, Hoist and Lift Operators","c":"Human Resource Clerks","p":0.15},{"r":"Crane, Hoist and Lift Operators","c":"Motor Vehicle and Parts Salespersons","p":0.15},{"r":"Crane, Hoist and Lift Operators","c":"Advertising, PR and Sales Managers","p":0.04},{"r":"Crane, Hoist and Lift Operators","c":"Technical Sales Representatives","p":0.12},{"r":"Crane, Hoist and Lift Operators","c":"Sales Representatives","p":0.28},{"r":"Crane, Hoist and Lift Operators","c":"ICT Business and Systems Analysts","p":0.0},{"r":"Crane, Hoist and Lift Operators","c":"Finance Managers","p":0.12},{"r":"Crane, Hoist and Lift Operators","c":"Life Scientists","p":0.04},{"r":"Crane, Hoist and Lift Operators","c":"Psychologists","p":0.0},{"r":"Crane, Hoist and Lift Operators","c":"Child Carers","p":0.11},{"r":"Crane, Hoist and Lift Operators","c":"Education Aides","p":0.12},{"r":"Crane, Hoist and Lift Operators","c":"Bar Attendants and Baristas","p":0.25},{"r":"Crane, Hoist and Lift Operators","c":"Shelf Fillers","p":0.25},{"r":"Crane, Hoist and Lift Operators","c":"Accounting Clerks","p":0.08},{"r":"Crane, Hoist and Lift Operators","c":"Keyboard Operators","p":0.08},
{"r":"Earthmoving Plant Operators","c":"Crop Farm Workers","p":0.66},{"r":"Earthmoving Plant Operators","c":"Garden and Nursery Laborers","p":0.38},{"r":"Earthmoving Plant Operators","c":"Earthmoving Plant Operators","p":1.0},{"r":"Earthmoving Plant Operators","c":"Crane, Hoist and Lift Operators","p":0.86},{"r":"Earthmoving Plant Operators","c":"Truck Drivers","p":0.86},{"r":"Earthmoving Plant Operators","c":"Plumbers","p":0.66},{"r":"Earthmoving Plant Operators","c":"Motor Mechanics","p":0.12},{"r":"Earthmoving Plant Operators","c":"Metal Fitters and Machinists","p":0.62},{"r":"Earthmoving Plant Operators","c":"Hotel and Motel Managers","p":0.48},{"r":"Earthmoving Plant Operators","c":"Human Resource Clerks","p":0.25},{"r":"Earthmoving Plant Operators","c":"Motor Vehicle and Parts Salespersons","p":0.44},{"r":"Earthmoving Plant Operators","c":"Advertising, PR and Sales Managers","p":0.15},{"r":"Earthmoving Plant Operators","c":"Technical Sales Representatives","p":0.38},{"r":"Earthmoving Plant Operators","c":"Sales Representatives","p":0.2},{"r":"Earthmoving Plant Operators","c":"ICT Business and Systems Analysts","p":0.08},{"r":"Earthmoving Plant Operators","c":"Finance Managers","p":0.15},{"r":"Earthmoving Plant Operators","c":"Life Scientists","p":0.2},{"r":"Earthmoving Plant Operators","c":"Psychologists","p":0.05},{"r":"Earthmoving Plant Operators","c":"Child Carers","p":0.08},{"r":"Earthmoving Plant Operators","c":"Education Aides","p":0.25},{"r":"Earthmoving Plant Operators","c":"Bar Attendants and Baristas","p":0.2},{"r":"Earthmoving Plant Operators","c":"Shelf Fillers","p":0.28},{"r":"Earthmoving Plant Operators","c":"Accounting Clerks","p":0.12},{"r":"Earthmoving Plant Operators","c":"Keyboard Operators","p":0.38},
{"r":"Garden and Nursery Laborers","c":"Crop Farm Workers","p":0.86},{"r":"Garden and Nursery Laborers","c":"Garden and Nursery Laborers","p":0.95},{"r":"Garden and Nursery Laborers","c":"Earthmoving Plant Operators","p":0.25},{"r":"Garden and Nursery Laborers","c":"Crane, Hoist and Lift Operators","p":0.08},{"r":"Garden and Nursery Laborers","c":"Truck Drivers","p":0.05},{"r":"Garden and Nursery Laborers","c":"Plumbers","p":0.04},{"r":"Garden and Nursery Laborers","c":"Motor Mechanics","p":0.03},{"r":"Garden and Nursery Laborers","c":"Metal Fitters and Machinists","p":0.03},{"r":"Garden and Nursery Laborers","c":"Hotel and Motel Managers","p":0.03},{"r":"Garden and Nursery Laborers","c":"Human Resource Clerks","p":0.09},{"r":"Garden and Nursery Laborers","c":"Motor Vehicle and Parts Salespersons","p":0.08},{"r":"Garden and Nursery Laborers","c":"Advertising, PR and Sales Managers","p":0.04},{"r":"Garden and Nursery Laborers","c":"Technical Sales Representatives","p":0.08},{"r":"Garden and Nursery Laborers","c":"Sales Representatives","p":0.04},{"r":"Garden and Nursery Laborers","c":"ICT Business and Systems Analysts","p":0.04},{"r":"Garden and Nursery Laborers","c":"Finance Managers","p":0.12},{"r":"Garden and Nursery Laborers","c":"Life Scientists","p":0.12},{"r":"Garden and Nursery Laborers","c":"Psychologists","p":0.09},{"r":"Garden and Nursery Laborers","c":"Child Carers","p":0.0},{"r":"Garden and Nursery Laborers","c":"Education Aides","p":0.04},{"r":"Garden and Nursery Laborers","c":"Bar Attendants and Baristas","p":0.15},{"r":"Garden and Nursery Laborers","c":"Shelf Fillers","p":0.08},{"r":"Garden and Nursery Laborers","c":"Accounting Clerks","p":0.08},{"r":"Garden and Nursery Laborers","c":"Keyboard Operators","p":0.2},
{"r":"Crop Farm Workers","c":"Crop Farm Workers","p":1.0},{"r":"Crop Farm Workers","c":"Garden and Nursery Laborers","p":0.73},{"r":"Crop Farm Workers","c":"Earthmoving Plant Operators","p":0.25},{"r":"Crop Farm Workers","c":"Crane, Hoist and Lift Operators","p":0.04},{"r":"Crop Farm Workers","c":"Truck Drivers","p":0.17},{"r":"Crop Farm Workers","c":"Plumbers","p":0.02},{"r":"Crop Farm Workers","c":"Motor Mechanics","p":0.09},{"r":"Crop Farm Workers","c":"Metal Fitters and Machinists","p":0.04},{"r":"Crop Farm Workers","c":"Hotel and Motel Managers","p":0.04},{"r":"Crop Farm Workers","c":"Human Resource Clerks","p":0.02},{"r":"Crop Farm Workers","c":"Motor Vehicle and Parts Salespersons","p":0.17},{"r":"Crop Farm Workers","c":"Advertising, PR and Sales Managers","p":0.0},{"r":"Crop Farm Workers","c":"Technical Sales Representatives","p":0.02},{"r":"Crop Farm Workers","c":"Sales Representatives","p":0.04},{"r":"Crop Farm Workers","c":"ICT Business and Systems Analysts","p":0.02},{"r":"Crop Farm Workers","c":"Finance Managers","p":0.04},{"r":"Crop Farm Workers","c":"Life Scientists","p":0.12},{"r":"Crop Farm Workers","c":"Psychologists","p":0.02},{"r":"Crop Farm Workers","c":"Child Carers","p":0.02},{"r":"Crop Farm Workers","c":"Education Aides","p":0.02},{"r":"Crop Farm Workers","c":"Bar Attendants and Baristas","p":0.04},{"r":"Crop Farm Workers","c":"Shelf Fillers","p":0.28},{"r":"Crop Farm Workers","c":"Accounting Clerks","p":0.0},{"r":"Crop Farm Workers","c":"Keyboard Operators","p":0.08}
]
},
"spacing": 9,
"vconcat": [
{
"width": 798, "height": 240,
"data": {"name": "tree"},
"mark": {"type": "rule", "color": "#111111", "strokeWidth": 1.5},
"encoding": {
"x": {"field": "p", "type": "quantitative", "scale": {"domain": [-10.885, 24], "nice": false, "zero": false}, "axis": null},
"x2": {"field": "p2"},
"y": {"field": "h", "type": "quantitative", "scale": {"domain": [0, 240], "nice": false, "zero": false}, "axis": null},
"y2": {"field": "h2"}
}
},
{
"spacing": 9,
"hconcat": [
{
"width": 240, "height": 549,
"data": {"name": "tree"},
"mark": {"type": "rule", "color": "#111111", "strokeWidth": 1.5},
"encoding": {
"y": {"field": "p", "type": "quantitative", "scale": {"domain": [0, 24], "nice": false, "zero": false}, "axis": null},
"y2": {"field": "p2"},
"x": {"field": "h", "type": "quantitative", "scale": {"domain": [0, 240], "nice": false, "zero": false, "reverse": true}, "axis": null},
"x2": {"field": "h2"}
}
},
{
"width": 549, "height": 549,
"data": {"name": "cells"},
"mark": {"type": "rect", "stroke": "white", "strokeWidth": 0.5, "strokeOpacity": 0.5},
"encoding": {
"x": {"field": "c", "type": "nominal",
"sort": ["Crop Farm Workers","Garden and Nursery Laborers","Earthmoving Plant Operators","Crane, Hoist and Lift Operators","Truck Drivers","Plumbers","Motor Mechanics","Metal Fitters and Machinists","Hotel and Motel Managers","Human Resource Clerks","Motor Vehicle and Parts Salespersons","Advertising, PR and Sales Managers","Technical Sales Representatives","Sales Representatives","ICT Business and Systems Analysts","Finance Managers","Life Scientists","Psychologists","Child Carers","Education Aides","Bar Attendants and Baristas","Shelf Fillers","Accounting Clerks","Keyboard Operators"],
"axis": {"orient": "bottom", "title": null, "labelAngle": -90, "labelFontSize": 20, "labelFont": "Liberation Sans", "labelColor": "black", "labelPadding": 9, "ticks": false, "domain": false, "labelLimit": 400}},
"y": {"field": "r", "type": "nominal",
"sort": ["Keyboard Operators","Accounting Clerks","Shelf Fillers","Bar Attendants and Baristas","Education Aides","Child Carers","Psychologists","Life Scientists","Finance Managers","ICT Business and Systems Analysts","Sales Representatives","Technical Sales Representatives","Advertising, PR and Sales Managers","Motor Vehicle and Parts Salespersons","Human Resource Clerks","Hotel and Motel Managers","Metal Fitters and Machinists","Motor Mechanics","Plumbers","Truck Drivers","Crane, Hoist and Lift Operators","Earthmoving Plant Operators","Garden and Nursery Laborers","Crop Farm Workers"],
"axis": {"orient": "right", "title": null, "labelFontSize": 20, "labelFont": "Liberation Sans", "labelColor": "black", "labelPadding": 11, "ticks": false, "domain": false, "labelLimit": 400}},
"color": {"field": "p", "type": "quantitative",
"scale": {"domain": [0, 0.14, 0.28, 0.42, 0.56, 0.69, 0.83, 0.95, 1], "range": ["#f7fbff", "#deebf7", "#c6dbef", "#9ecae1", "#6baed6", "#4292c6", "#2171b5", "#08519c", "#084594"]},
"legend": {"type": "symbol", "title": "Probability of Transition", "values": [0, 0.5, 1],
"labelExpr": "datum.value == 0 ? 'Low' : (datum.value == 0.5 ? 'Medium' : 'High')",
"orient": "none", "legendX": 836, "legendY": 831, "direction": "vertical",
"symbolType": "square", "symbolSize": 300, "symbolStrokeColor": "black", "symbolStrokeWidth": 1.5, "symbolOpacity": 1,
"titleFont": "Liberation Sans", "titleFontSize": 22, "titleFontWeight": "bold", "titleColor": "black", "titleAnchor": "middle", "titlePadding": 18, "titleLimit": 500,
"labelFont": "Liberation Sans", "labelFontSize": 22, "labelColor": "black", "labelOffset": 12, "rowPadding": 4,
"encode": {"symbols": {"update": {"stroke": {"value": "black"}, "strokeWidth": {"value": 1.5}}}}}
}
}
}
]
}
]
}
